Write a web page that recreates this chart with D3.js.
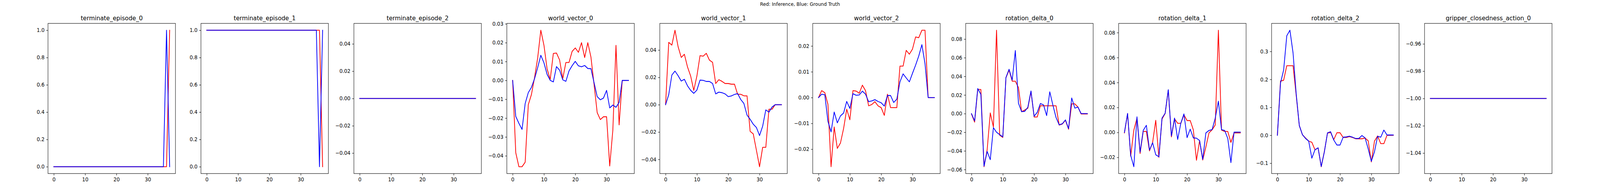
<!DOCTYPE html>
<html>
<head>
<meta charset="utf-8">
<script src="https://cdn.jsdelivr.net/npm/d3@7"></script>
<style>
  html, body { margin: 0; padding: 0; background: #fff; overflow: hidden; }
  svg { display: block; width: 100vw; height: 100vh; font-family: "DejaVu Sans", sans-serif; }
</style>
</head>
<body>
<svg id="chart" viewBox="0 0 4500 500" preserveAspectRatio="none"></svg>
<script>
// panel titles, left to right
var titles = ["terminate_episode_0", "terminate_episode_1", "terminate_episode_2",
  "world_vector_0", "world_vector_1", "world_vector_2",
  "rotation_delta_0", "rotation_delta_1", "rotation_delta_2",
  "gripper_closedness_action_0"];

// red = inference, blue = ground truth (38 steps each)
var inferTerminate0 = [0,0,0,0,0,0,0,0,0,0,0,0,0,0,0,0,0,0,0,0,0,0,0,0,0,0,0,0,0,0,0,0,0,0,0,0,0,1];
var truthTerminate0 = [0,0,0,0,0,0,0,0,0,0,0,0,0,0,0,0,0,0,0,0,0,0,0,0,0,0,0,0,0,0,0,0,0,0,0,0,1,0];
var inferTerminate1 = [1,1,1,1,1,1,1,1,1,1,1,1,1,1,1,1,1,1,1,1,1,1,1,1,1,1,1,1,1,1,1,1,1,1,1,1,1,0];
var truthTerminate1 = [1,1,1,1,1,1,1,1,1,1,1,1,1,1,1,1,1,1,1,1,1,1,1,1,1,1,1,1,1,1,1,1,1,1,1,1,0,1];
var inferTerminate2 = [0,0,0,0,0,0,0,0,0,0,0,0,0,0,0,0,0,0,0,0,0,0,0,0,0,0,0,0,0,0,0,0,0,0,0,0,0,0];
var truthTerminate2 = [0,0,0,0,0,0,0,0,0,0,0,0,0,0,0,0,0,0,0,0,0,0,0,0,0,0,0,0,0,0,0,0,0,0,0,0,0,0];

var inferWorld0 = [0, -0.0384, -0.0458, -0.0458, -0.0434, -0.0129, -0.0075, 0.0015, 0.012, 0.0266,
  0.0186, 0.0061, 0.0005, 0.0143, 0.0145, 0.0108, 0.0009, 0.0095, 0.0095, 0.0154,
  0.0172, 0.0149, 0.02, 0.0121, 0.02, 0.0124, -0.0022, -0.0171, -0.0208, -0.0193,
  -0.0193, -0.0454, -0.0263, 0.0186, -0.0236, 0, 0, 0];
var truthWorld0 = [0, -0.0191, -0.0228, -0.026, -0.0123, -0.0065, -0.0037, 0.0009, 0.0068, 0.0133,
  0.0093, 0.0032, 0, -0.0008, 0.0073, 0.0054, 0.0003, -0.0005, 0.005, 0.0078,
  0.0101, 0.0077, 0.0072, 0.0079, 0.0063, 0.0062, -0.0012, -0.0086, -0.0103, -0.0094,
  -0.0053, -0.0146, -0.0131, -0.0143, -0.0117, 0, 0, 0];

var inferWorld1 = [0, 0.0456, 0.0436, 0.0545, 0.0424, 0.0346, 0.0369, 0.0276, 0.021, 0.0105,
  0.021, 0.0359, 0.0355, 0.0376, 0.0326, 0.031, 0.0155, 0.0183, 0.0171, 0.0155,
  0.0155, 0.015, 0.015, 0.0076, 0.0076, 0.0065, 0.0065, -0.0195, -0.0214, -0.0333,
  -0.0454, -0.0312, -0.0312, -0.0033, -0.0033, 0, 0, 0];
var truthWorld1 = [0, 0.0073, 0.0217, 0.0246, 0.0212, 0.0173, 0.0186, 0.0138, 0.0105, 0.0083,
  0.0107, 0.018, 0.0178, 0.017, 0.017, 0.0155, 0.0079, 0.0092, 0.0088, 0.0079,
  0.0059, 0.0064, 0.0075, 0.0081, 0.0038, 0.0009, -0.0076, -0.0107, -0.0143, -0.0167,
  -0.0226, -0.0157, -0.0038, -0.0055, -0.0017, 0, 0, 0];

var inferWorld2 = [0, 0.0027, 0.0019, -0.0026, -0.0268, -0.0114, -0.0197, -0.0176, -0.012, -0.0045,
  -0.0086, 0.0027, 0.0025, 0.0017, 0.0048, 0.0027, -0.0032, -0.0027, -0.0016, -0.0032,
  -0.0039, -0.0069, 0.0013, -0.0039, -0.0039, -0.0039, 0.0122, 0.0122, 0.0183, 0.0168,
  0.0188, 0.0235, 0.0232, 0.0261, 0.0261, 0, 0, 0];
var truthWorld2 = [0, 0.0013, 0.0011, -0.0092, -0.0133, -0.0056, -0.0098, -0.0071, -0.006, -0.0015,
  -0.0042, 0.0015, 0.0009, 0.001, 0.0025, 0.0013, -0.0016, -0.0013, -0.0008, -0.0015,
  -0.002, -0.0033, 0.0008, 0.0008, -0.0019, -0.0006, 0.0061, 0.0092, 0.0076, 0.0061,
  0.0094, 0.0126, 0.0161, 0.0205, 0.0131, 0, 0, 0];

var inferRot0 = [-0.0004, -0.0091, 0.0259, 0.0259, -0.057, -0.0389, 0.0007, -0.0144, 0.0895, -0.0232,
  -0.0256, 0.0385, 0.0467, 0.0348, 0.0348, 0.028, 0.002, 0.0038, 0.0059, 0.0238,
  -0.0036, -0.0036, 0.0084, 0.0084, 0.0084, 0.0084, 0.0084, 0.0084, -0.0123, -0.0112,
  -0.0071, -0.0168, 0.0105, 0.0105, 0.007, -0.0004, -0.0004, -0.0004];
var truthRot0 = [0, -0.0078, 0.0269, 0.0206, -0.0564, -0.0406, -0.0494, -0.0151, -0.02, -0.0225,
  -0.0249, 0.0387, 0.0476, 0.0359, 0.0677, 0.0112, 0.0021, 0.0024, 0.0069, 0.0243,
  -0.0028, 0.0014, 0.0108, 0.0094, -0.0021, 0.0234, 0.009, -0.0042, -0.012, -0.0109,
  -0.0067, -0.0161, 0.0168, 0.0059, 0.007, 0, 0, 0];

var inferRot1 = [-0.0004, 0.0149, -0.019, 0.0019, 0.0113, -0.0169, 0.0008, 0.0008, -0.0148, -0.008,
  0.0097, -0.02, 0.0107, 0.0152, 0.0339, -0.0036, 0.0109, 0.0073, 0.0073, 0.0141,
  0.0095, 0.0095, 0.0021, -0.0223, -0.0065, -0.0221, -0.0117, -0.0004, 0.0021, 0.006,
  0.0819, 0.0019, 0.0008, 0.0008, -0.008, -0.0004, -0.0004, -0.0004];
var truthRot1 = [0, 0.0152, -0.0184, -0.0275, 0.0125, -0.0158, 0.0016, 0.0057, -0.0141, -0.0083,
  -0.0179, -0.0195, 0.0115, 0.0154, 0.0342, -0.0028, 0.0115, -0.0056, 0.0073, 0.0148,
  -0.0042, 0.0026, -0.0044, -0.0046, -0.0065, -0.0216, -0.0004, 0.0016, 0.0023, 0.0115,
  0.025, 0.0022, 0.0016, -0.0049, -0.0242, 0.0002, 0.0002, 0.0002];

var inferRot2 = [0, 0.194, 0.197, 0.249, 0.249, 0.249, 0.144, 0.035, 0.002, -0.01,
  -0.021, -0.025, -0.052, -0.045, -0.1126, -0.058, 0.008, 0.01, -0.016, 0.009,
  0.009, -0.008, -0.008, -0.0047, -0.008, -0.0126, -0.0126, -0.0126, -0.01, -0.02,
  -0.0953, -0.021, -0.0023, -0.03, -0.03, 0, 0, 0];
var truthRot2 = [0, 0.187, 0.234, 0.356, 0.376, 0.295, 0.149, 0.035, 0.002, -0.0116,
  -0.021, -0.082, -0.052, -0.045, -0.1116, -0.0595, 0.0084, 0.0126, -0.017, -0.035,
  -0.035, -0.007, -0.006, -0.0033, -0.007, -0.0116, -0.0116, -0.001, -0.0093, -0.0488,
  -0.093, -0.059, -0.0037, -0.007, 0.0186, 0.001, 0.001, 0.001];

var inferGripper = [-1,-1,-1,-1,-1,-1,-1,-1,-1,-1,-1,-1,-1,-1,-1,-1,-1,-1,-1,-1,-1,-1,-1,-1,-1,-1,-1,-1,-1,-1,-1,-1,-1,-1,-1,-1,-1,-1];
var truthGripper = [-1,-1,-1,-1,-1,-1,-1,-1,-1,-1,-1,-1,-1,-1,-1,-1,-1,-1,-1,-1,-1,-1,-1,-1,-1,-1,-1,-1,-1,-1,-1,-1,-1,-1,-1,-1,-1,-1];

// tick labels
var xTicks = [0, 10, 20, 30];
var yTicksTerminate = [0, 0.2, 0.4, 0.6, 0.8, 1.0];
var yTicksTerminate2 = [-0.04, -0.02, 0, 0.02, 0.04];
var yTicksWorld0 = [-0.04, -0.03, -0.02, -0.01, 0, 0.01, 0.02, 0.03];
var yTicksWorld1 = [-0.04, -0.02, 0, 0.02, 0.04];
var yTicksWorld2 = [-0.02, -0.01, 0, 0.01, 0.02];
var yTicksRot0 = [-0.06, -0.04, -0.02, 0, 0.02, 0.04, 0.06, 0.08];
var yTicksRot1 = [-0.02, 0, 0.02, 0.04, 0.06, 0.08];
var yTicksRot2 = [-0.1, 0, 0.1, 0.2, 0.3];
var yTicksGripper = [-1.04, -1.02, -1.00, -0.98, -0.96];

var inferSeries = [inferTerminate0, inferTerminate1, inferTerminate2, inferWorld0, inferWorld1,
  inferWorld2, inferRot0, inferRot1, inferRot2, inferGripper];
var truthSeries = [truthTerminate0, truthTerminate1, truthTerminate2, truthWorld0, truthWorld1,
  truthWorld2, truthRot0, truthRot1, truthRot2, truthGripper];
var yTickSets = [yTicksTerminate, yTicksTerminate, yTicksTerminate2, yTicksWorld0, yTicksWorld1,
  yTicksWorld2, yTicksRot0, yTicksRot1, yTicksRot2, yTicksGripper];
var yDigits = [1, 1, 2, 2, 2, 2, 2, 2, 1, 2];

// drawing space is 4500x500, the viewBox stretches it onto the window
var W = 4500, H = 500;
var svg = d3.select("#chart");

// matplotlib-like layout: left .03, right .97, top .88, bottom .11, wspace .2
var n = titles.length;
var axW = (W * 0.94) / (n + (n - 1) * 0.2);
var axGap = axW * 0.2;
var axTop = H * 0.12, axBottom = H * 0.89;
var tickLen = 4.86, tickPad = 4.86;

// pad the data range by 5% like matplotlib autoscale
function paddedExtent(a, b) {
  var all = a.concat(b);
  var lo = d3.min(all), hi = d3.max(all);
  if (lo === hi) {
    var d = lo === 0 ? 0.05 : Math.abs(lo) * 0.05;
    lo -= d; hi += d;
  }
  var m = (hi - lo) * 0.05;
  return [lo - m, hi + m];
}

svg.append("rect").attr("width", W).attr("height", H).attr("fill", "#fff");

svg.append("text")
  .attr("x", W / 2)
  .attr("y", 15.5)
  .attr("text-anchor", "middle")
  .attr("font-size", "13px")
  .attr("fill", "#000")
  .text("Red: Inference, Blue: Ground Truth");

titles.forEach(function(title, i) {
  var left = W * 0.03 + i * (axW + axGap);
  var g = svg.append("g").attr("transform", "translate(" + left + ",0)");

  var red = inferSeries[i], blue = truthSeries[i];
  var x = d3.scaleLinear().domain([-1.85, 38.85]).range([0, axW]);
  var y = d3.scaleLinear().domain(paddedExtent(red, blue)).range([axBottom, axTop]);

  var line = d3.line()
    .x(function(d, k) { return x(k); })
    .y(function(d) { return y(d); });

  g.append("path").datum(red)
    .attr("d", line)
    .attr("fill", "none")
    .attr("stroke", "red")
    .attr("stroke-width", 2.08)
    .attr("stroke-linejoin", "round")
    .attr("stroke-linecap", "square");

  g.append("path").datum(blue)
    .attr("d", line)
    .attr("fill", "none")
    .attr("stroke", "blue")
    .attr("stroke-width", 2.08)
    .attr("stroke-linejoin", "round")
    .attr("stroke-linecap", "square");

  // frame
  g.append("rect")
    .attr("x", 0).attr("y", axTop)
    .attr("width", axW).attr("height", axBottom - axTop)
    .attr("fill", "none")
    .attr("stroke", "#000")
    .attr("stroke-width", 1.1);

  var xAxis = g.append("g")
    .attr("transform", "translate(0," + axBottom + ")")
    .call(d3.axisBottom(x).tickValues(xTicks).tickSize(tickLen).tickPadding(tickPad)
      .tickFormat(d3.format("d")));

  var fmt = d3.format("." + yDigits[i] + "f");
  var yAxis = g.append("g")
    .call(d3.axisLeft(y).tickValues(yTickSets[i]).tickSize(tickLen).tickPadding(tickPad)
      .tickFormat(fmt));

  [xAxis, yAxis].forEach(function(ax) {
    ax.select(".domain").remove();
    ax.selectAll(".tick line").attr("stroke", "#000").attr("stroke-width", 1.1);
    ax.selectAll(".tick text")
      .attr("fill", "#000")
      .style("font-size", "13.9px")
      .style("font-family", "'DejaVu Sans', sans-serif");
  });

  g.append("text")
    .attr("x", axW / 2)
    .attr("y", axTop - 8.3)
    .attr("text-anchor", "middle")
    .attr("font-size", "16.7px")
    .attr("fill", "#000")
    .text(title);
});
</script>
</body>
</html>
